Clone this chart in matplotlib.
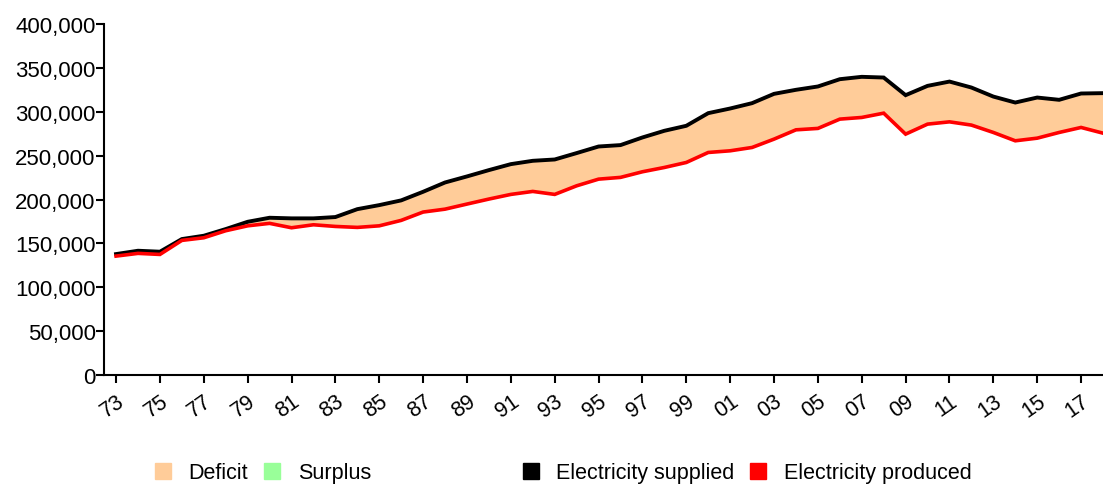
import matplotlib
matplotlib.use("Agg")
import matplotlib.pyplot as plt
from matplotlib.patches import Patch
from matplotlib.ticker import FuncFormatter
import numpy as np

plt.rcParams['font.family'] = ['Liberation Sans', 'DejaVu Sans']

years = list(range(1973, 2019))
supplied = [137.8, 141.6, 140.5, 154.9, 158.7, 166.3, 174.6, 179.2, 178.5, 178.5,
            180.0, 189.0, 193.6, 199.0, 208.8, 219.4, 226.3, 233.5, 240.3, 244.1,
            245.6, 252.9, 260.4, 262.0, 270.7, 278.3, 284.0, 298.4, 303.7, 309.8,
            320.4, 325.0, 328.8, 337.1, 339.8, 339.0, 318.9, 329.5, 334.4, 327.6,
            317.3, 310.5, 316.2, 313.6, 320.8, 321.2]
produced = [135.5, 138.6, 137.4, 153.4, 156.4, 164.4, 170.0, 172.8, 167.8, 171.2,
            169.3, 168.2, 170.0, 176.2, 185.7, 189.0, 194.8, 200.5, 205.8, 209.2,
            205.8, 215.6, 223.2, 225.2, 231.6, 236.5, 242.2, 253.6, 255.5, 259.3,
            268.8, 279.4, 281.0, 291.6, 293.5, 298.4, 274.5, 285.9, 288.5, 284.8,
            276.4, 266.9, 269.9, 276.4, 282.1, 275.6]
supplied = np.array(supplied) * 1000
produced = np.array(produced) * 1000
yticks = list(range(0, 400001, 50000))
xticks = list(range(1973, 2018, 2))

fig = plt.figure(figsize=(11.03, 4.85), dpi=100)
ax = fig.add_axes([104/1103, 109/485, 1 - 104/1103, (376-25)/485])

ax.fill_between(years, produced, supplied, where=supplied >= produced,
                color='#FFCC99', interpolate=True, linewidth=0)
ax.fill_between(years, produced, supplied, where=supplied < produced,
                color='#99FF99', interpolate=True, linewidth=0)
ax.plot(years, supplied, color='black', lw=2.8, solid_joinstyle='miter')
ax.plot(years, produced, color='#FF0000', lw=2.6, solid_joinstyle='miter')

ax.set_xlim(1972.45, 2018)
ax.set_ylim(0, 400000)
ax.set_yticks(yticks)
ax.yaxis.set_major_formatter(FuncFormatter(lambda v, p: f"{int(v):,}"))
ax.set_xticks(xticks)
ax.set_xticklabels([f"{y % 100:02d}" for y in xticks], rotation=35,
                   ha='right', va='top', rotation_mode='anchor')
ax.tick_params(axis='both', length=6, width=1.5, direction='out')
ax.tick_params(axis='y', pad=0, labelsize=16)
ax.tick_params(axis='x', pad=5, labelsize=15.5)
for s in ['top', 'right']:
    ax.spines[s].set_visible(False)
for s in ['left', 'bottom']:
    ax.spines[s].set_linewidth(1.5)

h1 = [Patch(color='#FFCC99', label='Deficit'), Patch(color='#99FF99', label='Surplus')]
h2 = [Patch(color='black', label='Electricity supplied'),
      Patch(color='#FF0000', label='Electricity produced')]
kw = dict(loc='center', ncol=2, frameon=False, fontsize=15.5, handlelength=0.75,
          handleheight=0.75, handletextpad=0.8, columnspacing=0.75, borderpad=0)
fig.legend(handles=h1, bbox_to_anchor=(263/1103, 1 - 474/485), **kw)
fig.legend(handles=h2, bbox_to_anchor=(747/1103, 1 - 474/485), **kw)

fig.savefig('out.png', dpi=100)
